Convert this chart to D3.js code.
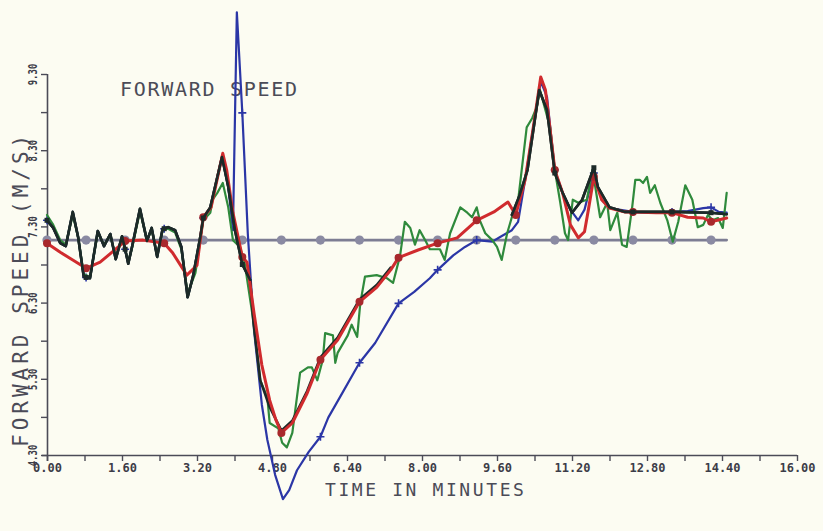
<!DOCTYPE html>
<html><head><meta charset="utf-8">
<script src="https://cdn.jsdelivr.net/npm/d3@7"></script>
<style>
html,body{margin:0;padding:0;background:#fcfcf2;}
svg{display:block;}
</style></head><body>
<svg id="chart" width="823" height="531"></svg>
<script>
// Forward speed (m/s) against time; run times are in seconds, axis in minutes.
const xTicks = [0,0.8,1.6,2.4,3.2,4.0,4.8,5.6,6.4,7.2,8.0,8.8,9.6,10.4,11.2,12.0,12.8,13.6,14.4,15.2,16.0];
const yTicks = [4.3,4.8,5.3,5.8,6.3,6.8,7.3,7.8,8.3,8.8,9.3];

// commanded speed
const refT = [0,50,100,150,200,250,300,350,400,450,500,550,600,650,700,750,800,850,870];
const refV = [7.12,7.12,7.12,7.12,7.12,7.12,7.12,7.12,7.12,7.12,7.12,7.12,7.12,7.12,7.12,7.12,7.12,7.12,7.12];

const redT = [0,17,33,50,68,97,100,123,150,161,179,192,200,210,225,230,238,250,256,265,275,285,293,300,314,333,350,372,400,422,440,450,475,500,525,550,572,590,600,612,622,632,638,650,660,670,680,688,693,700,710,720,740,750,780,800,820,840,850,870];
const redV = [7.08,6.96,6.86,6.75,6.83,7.08,7.11,7.12,7.08,6.95,6.66,6.79,7.42,7.55,8.26,8.04,7.48,6.90,6.83,6.16,5.48,5.02,4.76,4.59,4.72,5.11,5.55,5.81,6.31,6.50,6.73,6.89,6.99,7.08,7.15,7.38,7.49,7.62,7.45,7.91,8.57,9.26,9.09,8.04,7.74,7.32,7.15,7.23,7.52,7.95,7.65,7.54,7.49,7.49,7.48,7.48,7.42,7.41,7.36,7.41];

const blueT = [0,8,17,24,33,40,47,50,55,65,73,81,88,96,100,104,109,119,128,134,141,148,150,155,164,172,180,187,196,200,209,224,232,238,243,250,257,265,275,282,292,302,310,320,335,350,360,375,400,420,450,470,490,500,520,535,550,570,580,595,603,612,622,632,640,650,660,670,680,688,700,710,720,750,780,800,820,840,850,860,870];
const blueV = [7.38,7.28,7.08,7.04,7.49,7.15,6.64,6.63,6.62,7.24,7.04,7.20,6.87,7.17,7.00,6.81,7.04,7.53,7.11,7.28,6.90,7.27,7.27,7.29,7.25,7.03,6.37,6.65,7.15,7.41,7.55,8.21,7.82,7.25,10.11,8.79,7.21,5.94,4.96,4.50,4.04,3.72,3.84,4.10,4.34,4.54,4.79,5.06,5.51,5.77,6.29,6.44,6.62,6.73,6.92,7.03,7.12,7.10,7.16,7.25,7.36,7.91,8.57,9.20,9.00,8.04,7.74,7.52,7.38,7.52,8.00,7.65,7.54,7.49,7.48,7.49,7.50,7.54,7.55,7.49,7.48];

const greenT = [0,8,17,24,33,40,47,55,65,73,81,88,96,104,109,119,128,134,141,148,155,164,172,180,190,200,209,212,218,225,232,238,247,253,264,273,282,285,296,301,307,314,324,334,339,346,353,356,366,369,372,385,390,397,401,407,422,435,443,452,458,465,471,477,484,490,503,509,516,529,538,544,550,554,561,570,576,582,589,595,602,614,621,627,631,644,650,657,663,667,673,680,691,698,701,708,717,721,730,736,742,749,753,759,763,768,772,778,785,794,801,808,817,826,833,840,846,852,859,865,870];
const greenV = [7.45,7.32,7.12,7.06,7.45,7.15,6.67,6.64,7.22,7.06,7.18,6.90,7.15,6.84,7.02,7.50,7.12,7.26,6.92,7.25,7.27,7.22,7.00,6.42,6.69,7.38,7.48,7.65,7.74,7.87,7.55,7.12,7.03,6.82,6.07,5.28,5.06,4.72,4.65,4.46,4.40,4.59,5.38,5.45,5.45,5.28,5.55,5.90,5.87,5.51,5.64,5.87,6.01,5.85,6.29,6.64,6.66,6.62,6.56,6.92,7.36,7.28,7.06,7.25,7.12,7.00,7.00,6.86,7.21,7.55,7.48,7.42,7.55,7.38,7.21,7.12,7.03,6.86,7.21,7.42,7.55,8.60,8.72,8.87,9.09,8.60,8.04,7.61,7.21,7.12,7.65,7.61,7.65,8.04,7.87,7.42,7.61,7.25,7.48,7.06,7.03,7.55,7.91,7.91,7.87,7.95,7.74,7.84,7.61,7.38,7.10,7.36,7.84,7.65,7.29,7.32,7.45,7.38,7.41,7.28,7.74];

// null marks the stretch where this run was not recorded
const blackT = [0,8,17,24,33,40,47,50,55,65,73,81,88,96,100,104,109,119,128,134,141,148,150,155,164,172,180,187,196,200,209,224,232,241,250,260,264,273,285,300,314,333,350,372,400,422,440,500,595,605,615,630,640,650,660,672,685,700,705,720,740,750,800,850,870];
const blackV = [7.38,7.28,7.08,7.04,7.49,7.15,6.64,6.63,6.62,7.24,7.04,7.20,6.87,7.17,7.00,6.81,7.04,7.53,7.11,7.28,6.90,7.27,7.27,7.29,7.25,7.03,6.37,6.65,7.15,7.41,7.55,8.21,7.82,7.23,6.80,6.60,6.07,5.28,4.93,4.62,4.75,5.14,5.58,5.84,6.34,6.53,6.76,null,7.45,7.71,8.04,9.09,8.83,8.00,7.74,7.48,7.65,8.07,7.82,7.55,7.49,7.49,7.49,7.48,7.46];

const svg = d3.select("#chart");
const x = d3.scaleLinear().domain([0, 16]).range([47, 797]);
const y = d3.scaleLinear().domain([4.3, 9.3]).range([455, 74]);
const ink = "#4b4b57";
const mono = "'DejaVu Sans Mono', monospace";

// axes
const fmt = d3.format(".2f");
const xAxis = svg.append("g").attr("transform", "translate(0,455)")
  .call(d3.axisBottom(x).tickValues(xTicks).tickSize(6).tickSizeOuter(0)
    .tickFormat((d, i) => i % 2 ? "" : fmt(d)));
xAxis.select(".domain").attr("stroke", ink).attr("stroke-width", 1.6).attr("d", "M42,0.5H797");
xAxis.selectAll(".tick line").attr("stroke", ink).attr("stroke-width", 1.4);
xAxis.selectAll(".tick text").attr("fill", "#3c3c48").attr("font-family", mono)
  .attr("font-weight", "bold").attr("font-size", 12).attr("y", 8).attr("dy", "0.71em");

const yAxis = svg.append("g").attr("transform", "translate(47,0)")
  .call(d3.axisLeft(y).tickValues(yTicks).tickSize(6).tickSizeOuter(0)
    .tickFormat((d, i) => i % 2 ? "" : fmt(d)));
yAxis.select(".domain").attr("stroke", ink).attr("stroke-width", 1.6).attr("d", "M0.5,74V461");
yAxis.selectAll(".tick line").attr("stroke", ink).attr("stroke-width", 1.4);
yAxis.selectAll(".tick text").attr("fill", "#3c3c48").attr("font-family", mono)
  .attr("font-weight", "bold").attr("font-size", 9)
  .attr("text-anchor", "middle").attr("x", 0).attr("y", -8).attr("dy", null)
  .attr("transform", "rotate(-90) scale(1,1.3)");

// titles
svg.append("text").attr("x", 120).attr("y", 96).text("FORWARD SPEED")
  .attr("font-family", mono).attr("font-size", 20).attr("letter-spacing", 1.7).attr("fill", ink);
svg.append("text").attr("x", 325).attr("y", 496).text("TIME IN MINUTES")
  .attr("font-family", mono).attr("font-size", 18).attr("letter-spacing", 2.6).attr("fill", ink);
svg.append("text").attr("transform", "translate(28,447) rotate(-90)").text("FORWARD SPEED (M/S)")
  .attr("font-family", mono).attr("font-size", 21).attr("letter-spacing", 4).attr("fill", ink);

// series
const pts = (t, v) => d3.zip(t, v);
const everywhere = () => true;
const atMarks = (p, keep = everywhere) => p.filter(d => d[0] % 50 === 0 && d[1] != null && keep(d));

function drawLine(data, color, width, keep = everywhere) {
  const line = d3.line().defined(d => d[1] != null && keep(d))
    .x(d => x(d[0] / 60)).y(d => y(d[1]));
  svg.append("path").datum(data).attr("d", line).attr("fill", "none")
    .attr("stroke", color).attr("stroke-width", width)
    .attr("stroke-linejoin", "round").attr("stroke-linecap", "round");
}

const ref = pts(refT, refV);
drawLine(ref, "#7d7d93", 2.6);
svg.append("g").selectAll("circle").data(atMarks(ref)).join("circle")
  .attr("cx", d => x(d[0] / 60)).attr("cy", d => y(d[1])).attr("r", 4.6).attr("fill", "#8a8aa2");

const blue = pts(blueT, blueV);
drawLine(blue, "#2b36a6", 2.2);
svg.append("g").selectAll("path").data(atMarks(blue)).join("path")
  .attr("d", d => { const cx = x(d[0] / 60), cy = y(d[1]); return `M${cx-4},${cy}H${cx+4}M${cx},${cy-4}V${cy+4}`; })
  .attr("stroke", "#2b36a6").attr("stroke-width", 1.6);

drawLine(pts(greenT, greenV), "#2f8a3c", 2.2);

const black = pts(blackT, blackV);
const red = pts(redT, redV);
// black leads the plot outside the slow-down, and runs under the red trace inside it
const blackOnTop = d => d[0] <= 262 || d[0] >= 595;

drawLine(black, "#1c2a28", 2.6);
drawLine(red, "#d02b2e", 3);
svg.append("g").selectAll("circle").data(atMarks(red)).join("circle")
  .attr("cx", d => x(d[0] / 60)).attr("cy", d => y(d[1])).attr("r", 4).attr("fill", "#a8282c");

drawLine(black, "#1c2a28", 2.6, blackOnTop);
svg.append("g").selectAll("rect").data(atMarks(black, blackOnTop)).join("rect")
  .attr("x", d => x(d[0] / 60) - 2.5).attr("y", d => y(d[1]) - 2.5)
  .attr("width", 5).attr("height", 5).attr("fill", "#1c2a28");
</script>
</body></html>
